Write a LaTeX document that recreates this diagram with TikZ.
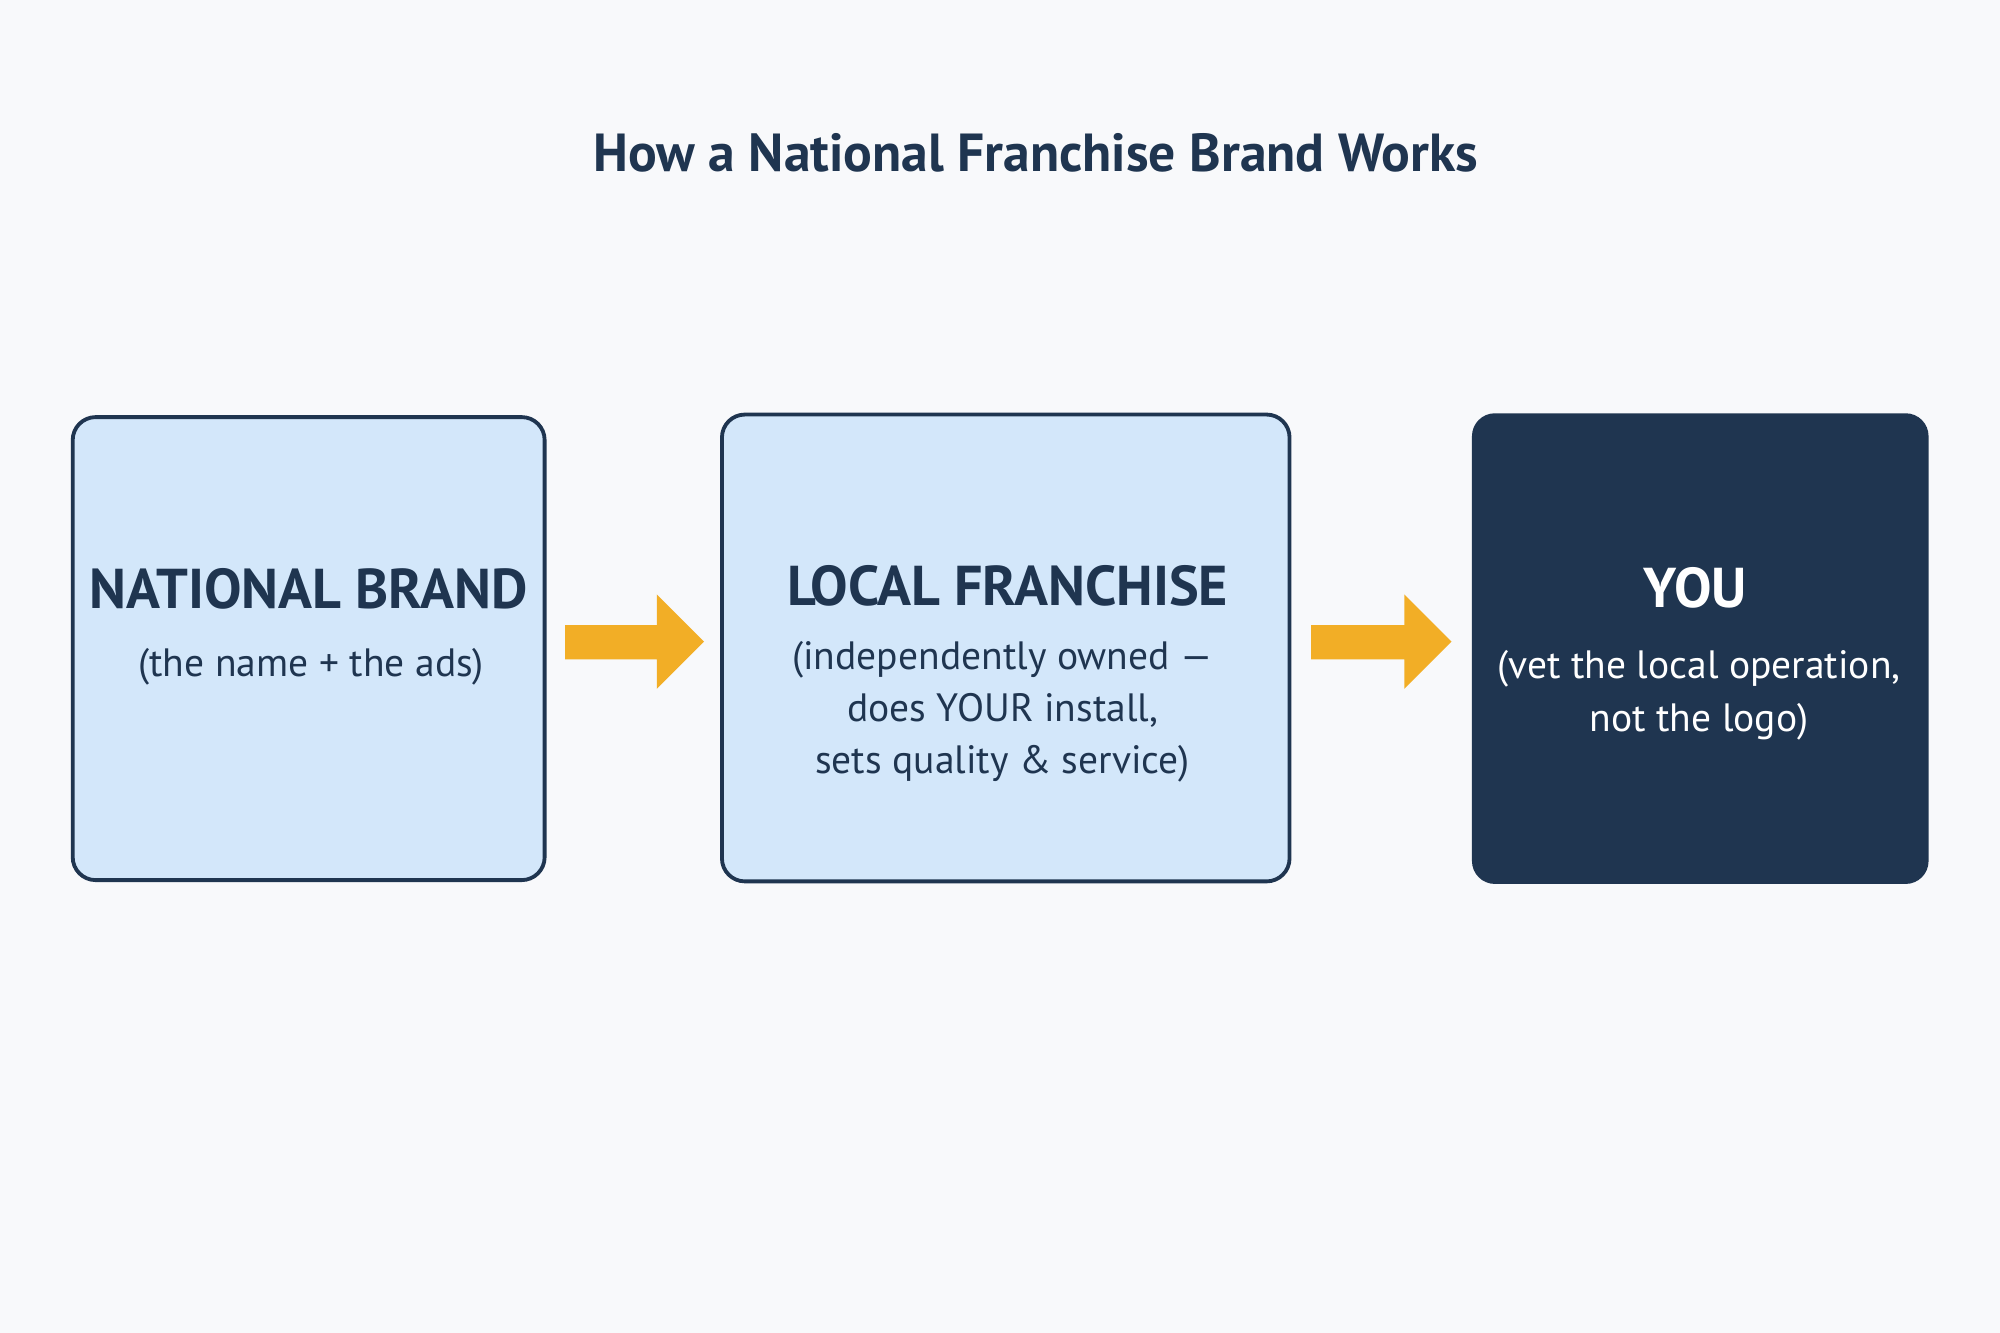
\documentclass[tikz,border=0pt]{standalone}
\usepackage{fontspec}
\setmainfont{PT Sans}
\definecolor{bg}{HTML}{F8F9FB}
\definecolor{lb}{HTML}{D3E7FA}
\definecolor{navy}{HTML}{1F3550}
\definecolor{gold}{HTML}{F2AE26}
\begin{document}
\begin{tikzpicture}[x=1pt,y=-1pt,
 box/.style={draw=navy,line width=3pt,rounded corners=18pt,fill=lb},
 dbox/.style={fill=navy,rounded corners=18pt},
 head/.style={font=\bfseries\fontsize{44}{50}\selectfont,text=navy},
 sub/.style={font=\fontsize{31}{41}\selectfont,text=navy,align=center},
 arr/.style={fill=gold}]
\fill[bg] (0,0) rectangle (1568,1045);
\useasboundingbox (0,0) rectangle (1568,1045);
\node[font=\bfseries\fontsize{42}{48}\selectfont,text=navy] (title) at (812,120) {How a National Franchise Brand Works};
\draw[box] (57,327) rectangle (427,690);
\draw[box] (566,325) rectangle (1011,691);
\fill[dbox] (1154,324) rectangle (1512,693);
\node[head] (h1) at (242,462) {NATIONAL BRAND};
\node[sub] (s1) at (244,523) {(the name + the ads)};
\node[head] (h2) at (790,459) {LOCAL FRANCHISE};
\node[sub] (s2) at (786,558) {(independently owned —\\does YOUR install,\\sets quality \& service)};
\node[head,text=white] (h3) at (1329,461) {YOU};
\node[sub,text=white] (s3) at (1332,545) {(vet the local operation,\\not the logo)};
\fill[arr] (443,490) -- (515,490) -- (515,466) -- (552,503) -- (515,540) -- (515,517) -- (443,517) -- cycle;
\fill[arr] (1028,490) -- (1101,490) -- (1101,466) -- (1138,503) -- (1101,540) -- (1101,517) -- (1028,517) -- cycle;
\end{tikzpicture}
\end{document}
